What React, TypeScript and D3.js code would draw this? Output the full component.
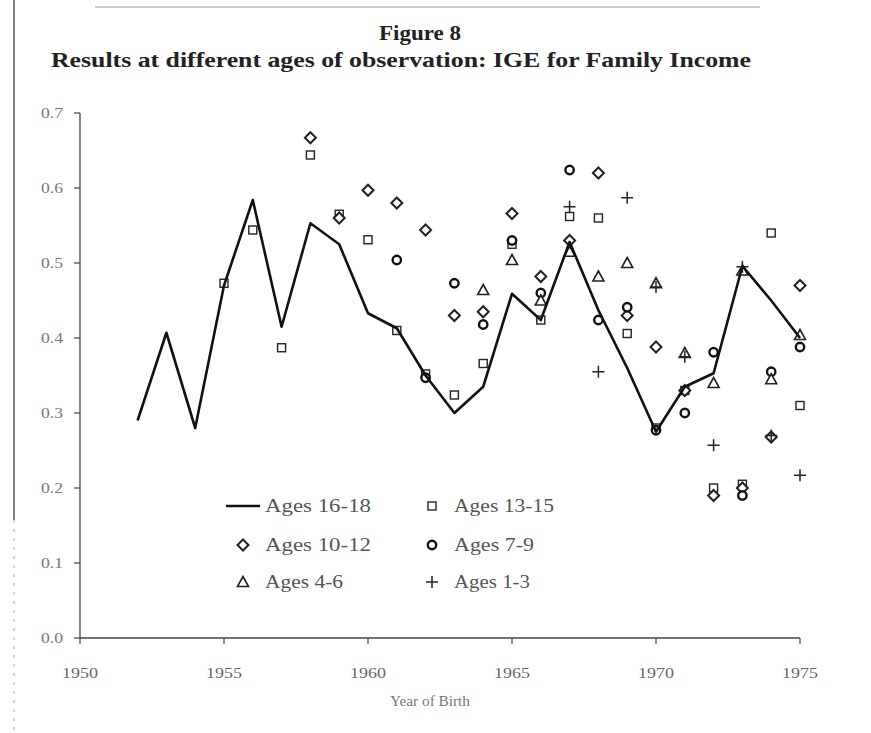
import React from 'react';
import * as d3 from 'd3';

const years16 = d3.range(1952, 1976);
const ages16_18 = [0.29, 0.407, 0.28, 0.47, 0.584, 0.415, 0.553, 0.525, 0.433, 0.413, 0.35, 0.30, 0.335, 0.459, 0.424, 0.528, 0.437, 0.36, 0.275, 0.335, 0.353, 0.496, 0.45, 0.40];

const years13 = d3.range(1955, 1976);
const ages13_15 = [0.473, 0.544, 0.387, 0.644, 0.565, 0.531, 0.41, 0.352, 0.324, 0.366, 0.525, 0.424, 0.562, 0.56, 0.406, 0.28, 0.33, 0.2, 0.205, 0.54, 0.31];

const years10 = d3.range(1958, 1976);
const ages10_12 = [0.667, 0.56, 0.597, 0.58, 0.544, 0.43, 0.435, 0.566, 0.482, 0.53, 0.62, 0.43, 0.388, 0.33, 0.19, 0.2, 0.268, 0.47];

const years7 = d3.range(1961, 1976);
const ages7_9 = [0.504, 0.347, 0.473, 0.418, 0.53, 0.46, 0.624, 0.424, 0.441, 0.277, 0.30, 0.381, 0.19, 0.355, 0.388];

const years4 = d3.range(1964, 1976);
const ages4_6 = [0.464, 0.504, 0.45, 0.515, 0.482, 0.50, 0.473, 0.38, 0.34, 0.49, 0.345, 0.404];

const years1 = d3.range(1967, 1976);
const ages1_3 = [0.575, 0.355, 0.587, 0.468, 0.375, 0.257, 0.495, 0.27, 0.217];

const xTicks = [1950, 1955, 1960, 1965, 1970, 1975];
const yTicks = [0.0, 0.1, 0.2, 0.3, 0.4, 0.5, 0.6, 0.7];

const margin = { left: 80, right: 71, top: 113, bottom: 95 };
const W = 871;
const H = 733;

const x = d3.scaleLinear().domain([1950, 1975]).range([margin.left, W - margin.right]);
const y = d3.scaleLinear().domain([0, 0.7]).range([H - margin.bottom, margin.top]);

const serif = '"Liberation Serif", "Times New Roman", serif';

type Shape = 'square' | 'diamond' | 'circle' | 'triangle' | 'plus';

function Marker({ shape, cx, cy }: { shape: Shape; cx: number; cy: number }) {
  if (shape === 'square') {
    return <rect x={cx - 4} y={cy - 4} width={8} height={8} fill="white" stroke="#222" strokeWidth={1.4} />;
  }
  if (shape === 'diamond') {
    return <path d={`M${cx},${cy - 5.5}L${cx + 5.5},${cy}L${cx},${cy + 5.5}L${cx - 5.5},${cy}Z`} fill="white" stroke="#222" strokeWidth={2} />;
  }
  if (shape === 'circle') {
    return <circle cx={cx} cy={cy} r={4.2} fill="white" stroke="#111" strokeWidth={2.4} />;
  }
  if (shape === 'triangle') {
    return <path d={`M${cx},${cy - 5.5}L${cx + 5.5},${cy + 4.5}L${cx - 5.5},${cy + 4.5}Z`} fill="white" stroke="#222" strokeWidth={1.6} />;
  }
  return <path d={`M${cx - 6},${cy}H${cx + 6}M${cx},${cy - 6}V${cy + 6}`} stroke="#222" strokeWidth={1.5} />;
}

const scatterSeries: { name: string; shape: Shape; years: number[]; values: number[] }[] = [
  { name: 'Ages 13-15', shape: 'square', years: years13, values: ages13_15 },
  { name: 'Ages 10-12', shape: 'diamond', years: years10, values: ages10_12 },
  { name: 'Ages 7-9', shape: 'circle', years: years7, values: ages7_9 },
  { name: 'Ages 4-6', shape: 'triangle', years: years4, values: ages4_6 },
  { name: 'Ages 1-3', shape: 'plus', years: years1, values: ages1_3 },
];

export default function App() {
  const line = d3.line<number>()
    .x((_, i) => x(years16[i]))
    .y((d) => y(d));

  const legend: { name: string; shape: Shape | 'line'; lx: number; ly: number; len: number }[] = [
    { name: 'Ages 16-18', shape: 'line', lx: 243, ly: 506, len: 106 },
    { name: 'Ages 13-15', shape: 'square', lx: 432, ly: 506, len: 100 },
    { name: 'Ages 10-12', shape: 'diamond', lx: 243, ly: 545, len: 106 },
    { name: 'Ages 7-9', shape: 'circle', lx: 432, ly: 545, len: 80 },
    { name: 'Ages 4-6', shape: 'triangle', lx: 243, ly: 582, len: 78 },
    { name: 'Ages 1-3', shape: 'plus', lx: 432, ly: 582, len: 76 },
  ];

  return (
    <svg width={W} height={H} style={{ position: 'absolute', left: 0, top: 0, background: '#fff' }} fontFamily={serif}>
      <rect width={W} height={H} fill="#fff" />
      {/* page edge */}
      <line x1={14} x2={14} y1={0} y2={520} stroke="#555" strokeWidth={1.5} />
      <line x1={14} x2={14} y1={520} y2={733} stroke="#aaa" strokeWidth={1} strokeDasharray="3,6" />
      <line x1={95} x2={760} y1={7} y2={7} stroke="#999" strokeWidth={1} />

      <text x={420} y={40} textAnchor="middle" fontWeight="bold" fontSize={21} fill="#222"
        textLength={82} lengthAdjust="spacingAndGlyphs">Figure 8</text>
      <text x={401} y={67} textAnchor="middle" fontWeight="bold" fontSize={21} fill="#222"
        textLength={700} lengthAdjust="spacingAndGlyphs">
        Results at different ages of observation: IGE for Family Income
      </text>

      {/* y axis */}
      <line x1={x(1950)} x2={x(1950)} y1={y(0.7)} y2={y(0)} stroke="#444" strokeWidth={1.3} />
      {yTicks.map((t) => (
        <g key={t}>
          <line x1={x(1950) - 6} x2={x(1950)} y1={y(t)} y2={y(t)} stroke="#444" strokeWidth={1.2} />
          <text x={x(1950) - 17} y={y(t) + 5} textAnchor="end" fontSize={15} fill="#777"
            textLength={22} lengthAdjust="spacingAndGlyphs">{d3.format('.1f')(t)}</text>
        </g>
      ))}

      {/* x axis */}
      <line x1={x(1950)} x2={x(1975)} y1={y(0)} y2={y(0)} stroke="#444" strokeWidth={1.5} />
      {xTicks.map((t) => (
        <g key={t}>
          <line x1={x(t)} x2={x(t)} y1={y(0)} y2={y(0) + 6} stroke="#444" strokeWidth={1.2} />
          <text x={x(t)} y={y(0) + 40} textAnchor="middle" fontSize={15} fill="#666"
            textLength={36} lengthAdjust="spacingAndGlyphs">{t}</text>
        </g>
      ))}
      <text x={430} y={706} textAnchor="middle" fontSize={15} fill="#777"
        textLength={80} lengthAdjust="spacingAndGlyphs">Year of Birth</text>

      {/* scatter series */}
      {scatterSeries.map((s) => (
        <g key={s.name}>
          {s.values.map((v, i) => (
            <Marker key={i} shape={s.shape} cx={x(s.years[i])} cy={y(v)} />
          ))}
        </g>
      ))}

      {/* line series */}
      <path d={line(ages16_18) || ''} fill="none" stroke="#111" strokeWidth={2.6} strokeLinejoin="round" />

      {/* legend */}
      {legend.map((l) => (
        <g key={l.name}>
          {l.shape === 'line' ? (
            <line x1={l.lx - 17} x2={l.lx + 17} y1={l.ly} y2={l.ly} stroke="#111" strokeWidth={2.6} />
          ) : (
            <Marker shape={l.shape} cx={l.lx} cy={l.ly} />
          )}
          <text x={l.lx + 22} y={l.ly + 6} fontSize={19} fill="#555"
            textLength={l.len} lengthAdjust="spacingAndGlyphs">{l.name}</text>
        </g>
      ))}
    </svg>
  );
}
